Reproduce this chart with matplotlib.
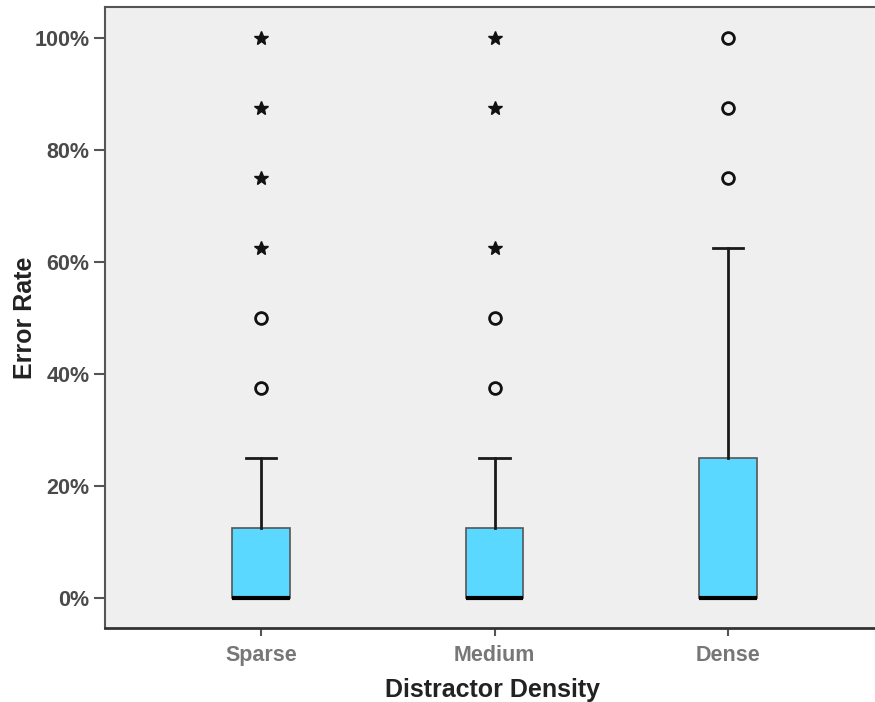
import matplotlib.pyplot as plt
from matplotlib.ticker import FuncFormatter

plt.rcParams['font.family'] = ['Liberation Sans', 'DejaVu Sans']

# Error rate (%) per distractor density condition
groups = ["Sparse", "Medium", "Dense"]
q1 = [0.0, 0.0, 0.0]
medians = [0.0, 0.0, 0.0]
q3 = [12.5, 12.5, 25.0]
whisker_low = [0.0, 0.0, 0.0]
whisker_high = [25.0, 25.0, 62.5]
outliers = [[37.5, 50.0], [37.5, 50.0], [75.0, 87.5, 100.0]]
extremes = [[62.5, 75.0, 87.5, 100.0], [62.5, 87.5, 100.0], []]

positions = [1, 2, 3]
box_color = "#5AD8FF"

fig = plt.figure(figsize=(8.75, 7.02), dpi=100)
ax = fig.add_axes([0.12, 0.1054, 0.885, 0.8846])
ax.set_facecolor("#EFEFEF")

stats = []
for i, g in enumerate(groups):
    stats.append({
        "label": g, "q1": q1[i], "med": medians[i], "q3": q3[i],
        "whislo": whisker_low[i], "whishi": whisker_high[i], "fliers": [],
    })

ax.bxp(stats, positions=positions, widths=0.248, capwidths=0.13,
       patch_artist=True, showfliers=False,
       boxprops=dict(facecolor=box_color, edgecolor="#555555", linewidth=1.2),
       medianprops=dict(color="black", linewidth=3, solid_capstyle="butt"),
       whiskerprops=dict(color="#1a1a1a", linewidth=2),
       capprops=dict(color="#1a1a1a", linewidth=2))

for p, vals in zip(positions, outliers):
    ax.plot([p] * len(vals), vals, linestyle="none", marker="o", markersize=8.5,
            markerfacecolor="none", markeredgecolor="#111111", markeredgewidth=2)
for p, vals in zip(positions, extremes):
    ax.plot([p] * len(vals), vals, linestyle="none", marker="*", markersize=10,
            color="#111111")

ax.set_xlim(0.332, 3.648)
ax.set_ylim(-5.4, 105.5)
ax.set_xticks(positions)
ax.set_xticklabels(groups)
ax.set_yticks([0, 20, 40, 60, 80, 100])
ax.yaxis.set_major_formatter(FuncFormatter(lambda v, _: f"{v:.0f}%"))

ax.tick_params(axis="y", direction="out", length=8, width=1.5, color="#555555",
               labelsize=15.5, labelcolor="#4a4a4a", pad=3)
ax.tick_params(axis="x", direction="out", length=6, width=1.5, color="#555555",
               labelsize=15.5, labelcolor="#777777", pad=6)
for lbl in ax.get_xticklabels() + ax.get_yticklabels():
    lbl.set_fontweight("bold")

ax.set_xlabel("Distractor Density", fontsize=18, fontweight="bold", color="#222222", labelpad=9)
ax.set_ylabel("Error Rate", fontsize=18, fontweight="bold", color="#222222")
ax.yaxis.set_label_coords(-0.088, 0.5)

for side in ["left", "top"]:
    ax.spines[side].set_color("#555555")
    ax.spines[side].set_linewidth(1.5)
ax.spines["bottom"].set_color("#333333")
ax.spines["bottom"].set_linewidth(2)
ax.spines["right"].set_visible(False)

fig.savefig("out.png", dpi=100)
